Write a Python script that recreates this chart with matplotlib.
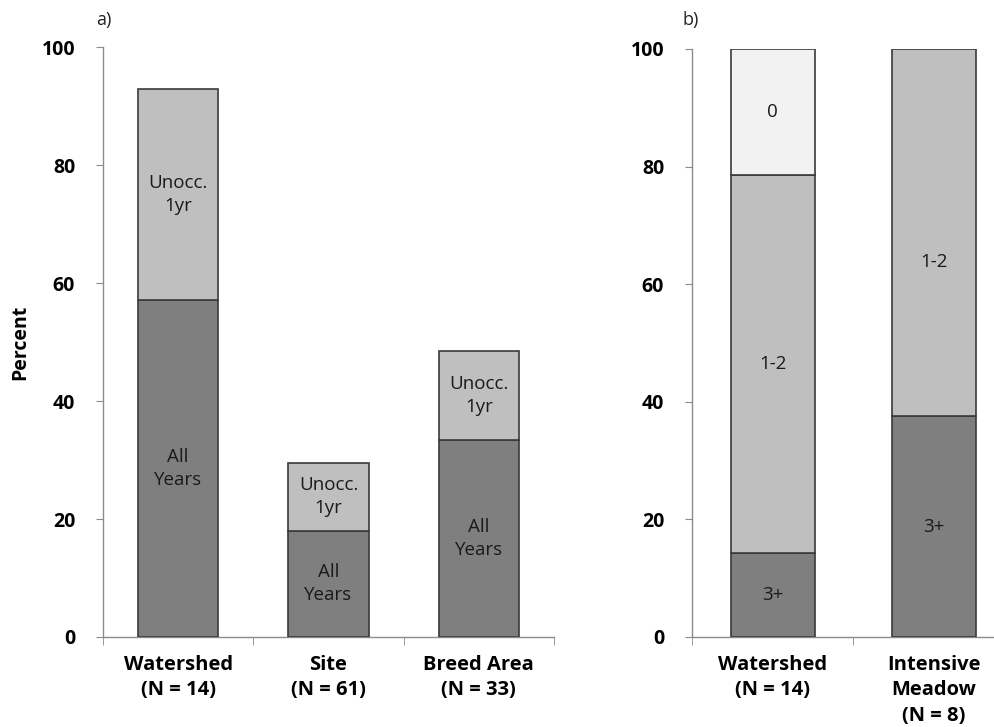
import matplotlib
matplotlib.use("Agg")
import matplotlib.pyplot as plt
import numpy as np

plt.rcParams['font.family'] = ['Open Sans', 'DejaVu Sans']

# Panel a) occupancy by spatial scale
cats_a = ["Watershed\n(N = 14)", "Site\n(N = 61)", "Breed Area\n(N = 33)"]
all_years = [8 / 14 * 100, 11 / 61 * 100, 11 / 33 * 100]
unocc_1yr = [5 / 14 * 100, 7 / 61 * 100, 5 / 33 * 100]

# Panel b) years occupied
cats_b = ["Watershed\n(N = 14)", "Intensive\nMeadow\n(N = 8)"]
occ_3plus = [2 / 14 * 100, 3 / 8 * 100]
occ_1_2 = [9 / 14 * 100, 5 / 8 * 100]
occ_0 = [3 / 14 * 100, 0.0]

yticks = [0, 20, 40, 60, 80, 100]

DARK = "#7f7f7f"
MID = "#bfbfbf"
LIGHT = "#f2f2f2"
EDGE = "#3a3a3a"
SPINE = "#8c8c8c"

fig = plt.figure(figsize=(9.95, 7.27), dpi=100)
ax1 = fig.add_axes([0.1035, 0.1238, 0.4533, 0.8115])
ax2 = fig.add_axes([0.6955, 0.1238, 0.3236, 0.8088])


def style_axes(ax, ncat):
    ax.set_ylim(0, 100)
    ax.set_xlim(-0.5, ncat - 0.5)
    for s in ("top", "right"):
        ax.spines[s].set_visible(False)
    for s in ("left", "bottom"):
        ax.spines[s].set_color(SPINE)
        ax.spines[s].set_linewidth(1.0)
    ax.set_yticks(yticks)
    ax.set_yticklabels([str(t) for t in yticks], fontsize=14, fontweight="bold")
    ax.tick_params(axis="y", direction="out", length=5, color=SPINE, pad=15)
    ax.set_xticks(np.arange(ncat))
    ax.set_xticks(np.arange(ncat + 1) - 0.5, minor=True)
    ax.tick_params(axis="x", which="major", length=0, pad=13)
    ax.tick_params(axis="x", which="minor", direction="out", length=6, color=SPINE)


def seg_label(ax, x, bottom, height, text, dy=0.0):
    ax.text(x, bottom + height / 2 + dy, text, ha="center", va="center",
            fontsize=13.5, color="#1a1a1a", linespacing=1.35)


# --- panel a
xa = np.arange(len(cats_a))
wa = 80 / 150
ax1.bar(xa, all_years, width=wa, color=DARK, edgecolor=EDGE, linewidth=1.2, zorder=3)
ax1.bar(xa, unocc_1yr, bottom=all_years, width=wa, color=MID, edgecolor=EDGE,
        linewidth=1.2, zorder=3)
for i in range(len(cats_a)):
    seg_label(ax1, xa[i], 0, all_years[i], "All\nYears")
    seg_label(ax1, xa[i], all_years[i], unocc_1yr[i], "Unocc.\n1yr")
style_axes(ax1, len(cats_a))
ax1.set_xticklabels(cats_a, fontsize=14.5, fontweight="bold", linespacing=1.35)
ax1.set_ylabel("Percent", fontsize=14, fontweight="bold", labelpad=8)
fig.text(0.097, 0.972, "a)", fontsize=13, ha="left", va="center", color="#222222")

# --- panel b
xb = np.arange(len(cats_b))
wb = 84 / 161
b12 = np.array(occ_3plus) + np.array(occ_1_2)
ax2.bar(xb, occ_3plus, width=wb, color=DARK, edgecolor=EDGE, linewidth=1.2, zorder=3)
ax2.bar(xb, occ_1_2, bottom=occ_3plus, width=wb, color=MID, edgecolor=EDGE,
        linewidth=1.2, zorder=3)
ax2.bar(xb[0], occ_0[0], bottom=b12[0], width=wb, color=LIGHT, edgecolor=EDGE,
        linewidth=1.2, zorder=3)
seg_label(ax2, xb[0], 0, occ_3plus[0], "3+")
seg_label(ax2, xb[0], occ_3plus[0], occ_1_2[0], "1-2")
seg_label(ax2, xb[0], b12[0], occ_0[0], "0")
seg_label(ax2, xb[1], 0, occ_3plus[1], "3+")
seg_label(ax2, xb[1], occ_3plus[1], occ_1_2[1], "1-2", dy=-5)
style_axes(ax2, len(cats_b))
ax2.set_xticklabels(cats_b, fontsize=14.5, fontweight="bold", linespacing=1.35)
fig.text(0.686, 0.972, "b)", fontsize=13, ha="left", va="center", color="#222222")

fig.savefig("out.png", dpi=100)
